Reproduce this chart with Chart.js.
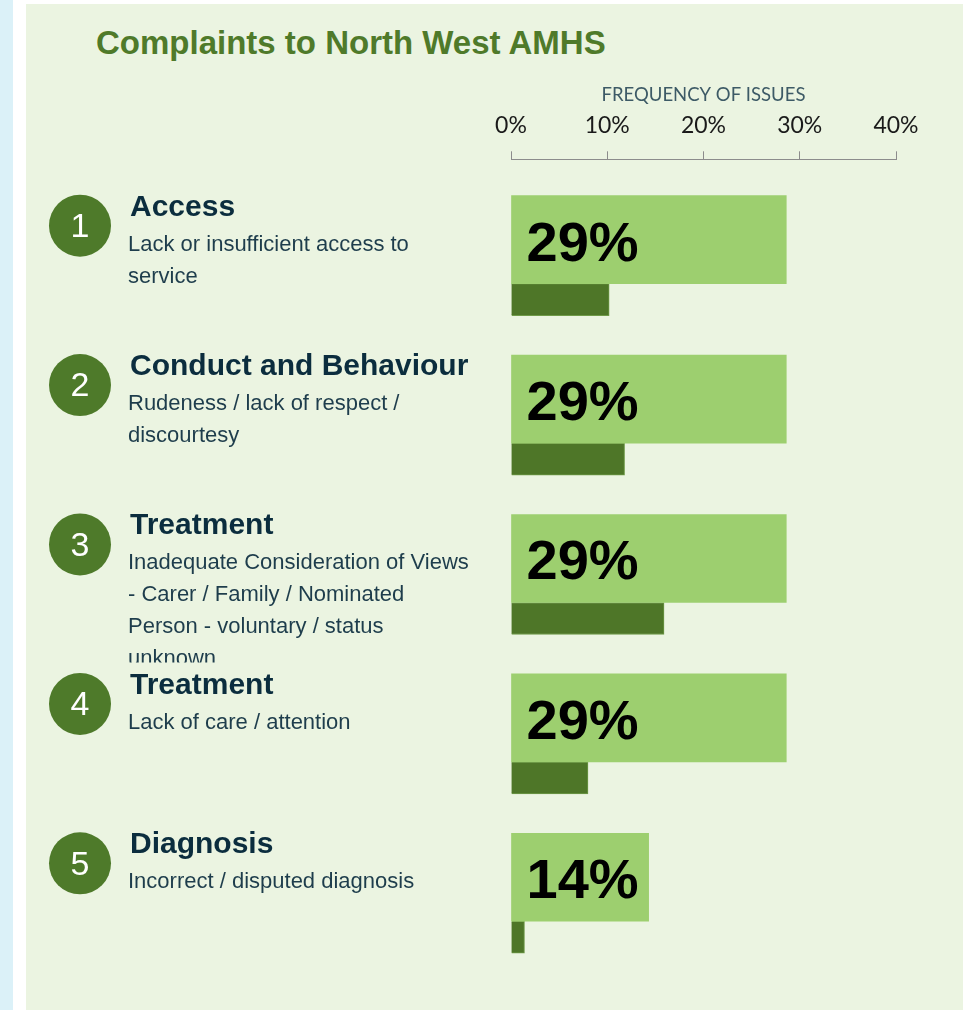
<!DOCTYPE html>
<html>
<head>
<meta charset="utf-8">
<script src="https://cdn.jsdelivr.net/npm/chart.js@4/dist/chart.umd.min.js"></script>
<style>
  html, body { margin: 0; padding: 0; background: #ffffff; }
  body { width: 963px; height: 1010px; position: relative; overflow: hidden; }
  #strip { position: absolute; left: 0; top: 0; width: 13px; height: 1010px; background: #dbf1f8; }
  #panel { position: absolute; left: 26px; top: 4px; right: 0; bottom: 0; background: #ebf4e1; }
  #title { position: absolute; left: 96px; top: 26px; font: bold 33px "Liberation Sans", Arial, sans-serif;
           line-height: 33px; color: #4f7a2a; white-space: nowrap; }
  #wrap { position: absolute; left: 0; top: 0; width: 963px; height: 1010px; }
  #chart { display: block; }
</style>
</head>
<body>
<div id="strip"></div>
<div id="panel"></div>
<div id="title">Complaints to North West AMHS</div>
<div id="wrap"><canvas id="chart" width="963" height="1010"></canvas></div>
<script>
// rows, top to bottom
const rankNumbers = ['1', '2', '3', '4', '5'];
const issueTitles = ['Access', 'Conduct and Behaviour', 'Treatment', 'Treatment', 'Diagnosis'];
const issueDescriptions = [
    ['Lack or insufficient access to', 'service'],
    ['Rudeness / lack of respect /', 'discourtesy'],
    ['Inadequate Consideration of Views', '- Carer / Family / Nominated', 'Person - voluntary / status', 'unknown'],
    ['Lack of care / attention'],
    ['Incorrect / disputed diagnosis']
];

// frequency of issues, %
const frequencyValues = [28.6, 28.6, 28.6, 28.6, 14.3];
const secondaryValues = [10.2, 11.8, 15.9, 8.0, 1.4];

const tickValues = [0, 10, 20, 30, 40];

const darkGreen = '#4e7628';
const lightGreen = '#9dcf6f';

let rowPoints = (values) => values.map((v, i) => ({ x: v, y: i }));

// circles, titles and descriptions on the left, value labels on the bars
const rowLabels = {
    id: 'rowLabels',
    afterDatasetsDraw(chart) {
        let ctx = chart.ctx;
        let yScale = chart.scales.y;
        let area = chart.chartArea;

        ctx.save();
        issueTitles.forEach((title, i) => {
            let p = yScale.getPixelForValue(i);

            // numbered circle
            ctx.fillStyle = '#4e7a2a';
            ctx.beginPath();
            ctx.arc(80, p - 58, 31, 0, Math.PI * 2);
            ctx.fill();
            ctx.fillStyle = '#ffffff';
            ctx.font = '34px "Liberation Sans", Arial, sans-serif';
            ctx.textAlign = 'center';
            ctx.textBaseline = 'middle';
            ctx.fillText(rankNumbers[i], 80, p - 56);

            // title
            ctx.textAlign = 'left';
            ctx.textBaseline = 'alphabetic';
            ctx.fillStyle = '#0b2d3e';
            ctx.font = 'bold 30px "Liberation Sans", Arial, sans-serif';
            ctx.fillText(title, 130, p - 68);

            // description, cut off where the next row starts
            ctx.save();
            ctx.beginPath();
            ctx.rect(0, p - 60, area.left - 20, 120);
            ctx.clip();
            ctx.fillStyle = '#1e3d4c';
            ctx.font = '22px "Liberation Sans", Arial, sans-serif';
            issueDescriptions[i].forEach((line, k) => {
                ctx.fillText(line, 128, p - 33 + k * 32);
            });
            ctx.restore();
        });

        // big percentage on each light bar
        let meta = chart.getDatasetMeta(0);
        ctx.fillStyle = '#000000';
        ctx.font = 'bold 56px "Liberation Sans", Arial, sans-serif';
        ctx.textAlign = 'left';
        ctx.textBaseline = 'alphabetic';
        meta.data.forEach((bar, i) => {
            ctx.fillText(Math.round(frequencyValues[i]) + '%', bar.base + 15, bar.y + 21);
        });
        ctx.restore();
    }
};

new Chart(document.getElementById('chart'), {
    type: 'bar',
    data: {
        datasets: [
            {
                label: 'Frequency',
                data: rowPoints(frequencyValues),
                backgroundColor: lightGreen,
                barThickness: 88
            },
            {
                label: 'Secondary',
                data: rowPoints(secondaryValues),
                backgroundColor: darkGreen,
                borderColor: '#6f9a48',
                borderWidth: 1,
                barThickness: 32
            }
        ]
    },
    options: {
        indexAxis: 'y',
        responsive: false,
        animation: false,
        devicePixelRatio: 1,
        layout: { padding: { left: 511, right: 67, top: 84, bottom: 9 } },
        plugins: {
            legend: { display: false },
            tooltip: { enabled: false }
        },
        scales: {
            x: {
                type: 'linear',
                position: 'top',
                min: 0,
                max: 40,
                offset: false,
                afterBuildTicks: (scale) => {
                    scale.ticks = tickValues.map(v => ({ value: v }));
                },
                ticks: {
                    padding: 11.5,
                    color: '#1a1a1a',
                    font: { family: 'Lato, "Liberation Sans", sans-serif', size: 23 },
                    callback: (v) => v + '%'
                },
                grid: {
                    drawOnChartArea: false,
                    tickLength: 8,
                    color: '#8c8c8c'
                },
                border: { color: '#8c8c8c', width: 1 },
                title: {
                    display: true,
                    text: 'FREQUENCY OF ISSUES',
                    color: '#3d5a66',
                    font: { family: 'Lato, "Liberation Sans", sans-serif', size: 18.5 },
                    padding: { top: 0, bottom: -5.5 }
                }
            },
            y: {
                type: 'linear',
                display: false,
                reverse: true,
                offset: false,
                min: -0.78,
                max: 4.5
            }
        }
    },
    plugins: [rowLabels]
});
</script>
</body>
</html>
